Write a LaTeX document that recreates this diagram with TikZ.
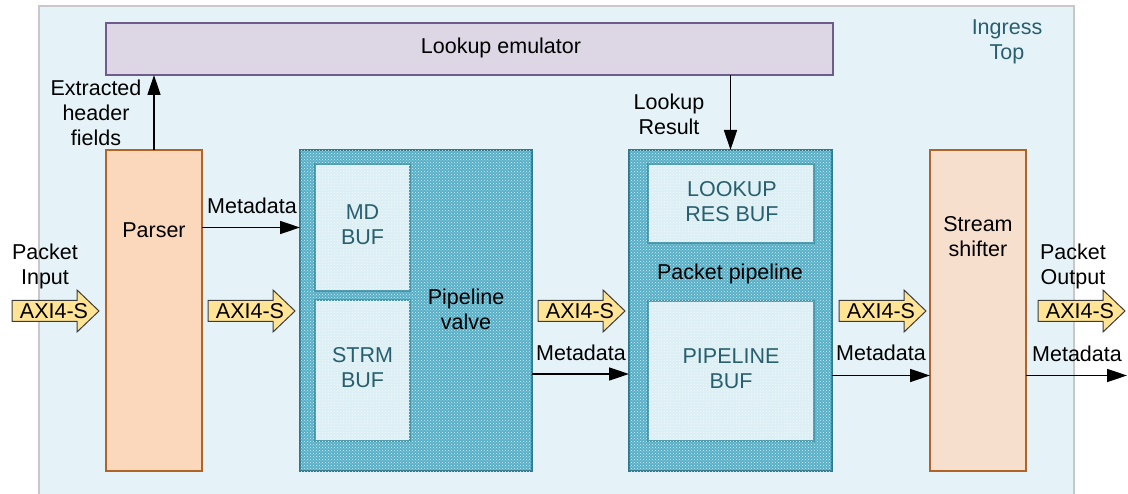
\documentclass[tikz,border=0pt]{standalone}
\usepackage{fontspec}
\setmainfont{Liberation Sans}
\usetikzlibrary{arrows.meta,patterns}

\definecolor{ingressbg}{RGB}{229,243,248}
\definecolor{ingressline}{RGB}{200,200,200}
\definecolor{lookupfill}{RGB}{221,214,229}
\definecolor{lookupline}{RGB}{110,92,140}
\definecolor{parserfill}{RGB}{251,215,188}
\definecolor{shifterfill}{RGB}{247,223,206}
\definecolor{orangeline}{RGB}{176,100,40}
\definecolor{texfill}{RGB}{88,176,200}
\definecolor{texline}{RGB}{45,120,140}
\definecolor{buffill}{RGB}{220,239,244}
\definecolor{bufline}{RGB}{70,150,170}
\definecolor{tealtext}{RGB}{40,95,110}
\definecolor{axifill}{RGB}{255,228,150}
\definecolor{axiline}{RGB}{60,60,60}

% AXI4-S block arrow: name, left x, centre y
\newcommand\axiarrow[3]{%
  \draw[axiedge] (#2,#3-10.5) -- ++(65,0) -- ++(0,-10.5) -- ++(22,21)
    -- ++(-22,21) -- ++(0,-10.5) -- ++(-65,0) -- cycle;
  \node[axitext] (#1) at (#2+42,#3) {AXI4-S};}

\begin{document}
\begin{tikzpicture}[x=1pt,y=-1pt,
  font=\fontsize{21.5}{25}\selectfont,
  every node/.style={inner sep=0pt, outer sep=0pt},
  blockbox/.style={draw, line width=1.5pt},
  parserbox/.style={blockbox, draw=orangeline, fill=parserfill},
  shifterbox/.style={blockbox, draw=orangeline, fill=shifterfill},
  texbox/.style={draw=texline, line width=2pt, fill=texfill,
    postaction={pattern=crosshatch dots, pattern color=white!75!texfill}},
  bufbox/.style={draw=bufline, line width=1.5pt, fill=buffill,
    postaction={pattern=crosshatch dots, pattern color=white!60!buffill}},
  buftext/.style={text=tealtext, align=center},
  lbl/.style={align=center},
  axiedge/.style={draw=axiline, line width=1pt, fill=axifill},
  axitext/.style={},
  arr/.style={line width=1.5pt, -{Triangle[length=20pt,width=13pt]}},
]
\useasboundingbox (0,0) rectangle (1128,494);

% Ingress Top region
\path[fill=ingressbg, draw=ingressline, line width=2pt] (39,6) rectangle (1074,500);
\node[text=tealtext, lbl] (ingress) at (1007,42) {Ingress\\Top};

% Lookup emulator
\node[blockbox, draw=lookupline, fill=lookupfill, minimum width=727pt, minimum height=52pt]
  (lookup) at (469.5,49) {};
\node (lookuptxt) at (501,48) {Lookup emulator};

% Parser
\node[parserbox, minimum width=96pt, minimum height=321pt] (parser) at (154,310.5) {};
\node (parsertxt) at (154,230) {Parser};

% Pipeline valve
\node[texbox, minimum width=232pt, minimum height=321pt] (valve) at (416,310.5) {};
\node[bufbox, minimum width=95pt, minimum height=127pt] (mdbuf) at (362.5,227.5) {};
\node[buftext] (mdtxt) at (362.5,225) {MD\\BUF};
\node[bufbox, minimum width=95pt, minimum height=141pt] (strmbuf) at (362.5,370.5) {};
\node[buftext] (strmtxt) at (362.5,368) {STRM\\BUF};
\node[lbl] (valvetxt) at (466,309) {Pipeline\\valve};

% Packet pipeline
\node[texbox, minimum width=203pt, minimum height=321pt] (pipe) at (730.5,310.5) {};
\node[bufbox, minimum width=166pt, minimum height=79pt] (resbuf) at (731,203.5) {};
\node[buftext] (restxt) at (732,202) {LOOKUP\\RES BUF};
\node[bufbox, minimum width=166pt, minimum height=140pt] (pipebuf) at (731,371) {};
\node[buftext] (pipebuftxt) at (731,369) {PIPELINE\\BUF};
\node (pipetxt) at (730,274) {Packet pipeline};

% Stream shifter
\node[shifterbox, minimum width=96pt, minimum height=321pt] (shifter) at (978,310.5) {};
\node[lbl] (shiftertxt) at (978,237) {Stream\\shifter};

% AXI4-S streams
\axiarrow{axiin}{12}{311}
\axiarrow{axiparser}{208}{311}
\axiarrow{axivalve}{538}{311}
\axiarrow{axipipe}{839}{311}
\axiarrow{axiout}{1038}{311}

\node[lbl] (pktin) at (45,266) {Packet\\Input};
\node[lbl] (pktout) at (1073,266) {Packet\\Output};

% Header fields to the lookup emulator and its result back
\draw[arr] (parser.north) -- (parser.north |- lookup.south);
\node[lbl] (extracted) at (96,113) {Extracted\\header\\fields};
\draw[arr] (pipe.north |- lookup.south) -- (pipe.north);
\node[lbl] (lookupres) at (669,114) {Lookup\\Result};

% Metadata paths
\draw[arr] (parser.east |- mdbuf) -- (valve.west |- mdbuf);
\node (md1) at (252,206) {Metadata};

\coordinate (mdrow) at (0,374);
\coordinate (mdrowb) at (0,375.5);
\coordinate (mdout) at (1127,375.5);
\draw[arr] (valve.east |- mdrow) -- (pipe.west |- mdrow);
\node (md2) at (581,353) {Metadata};
\draw[arr] (pipe.east |- mdrowb) -- (shifter.west |- mdrowb);
\node (md3) at (881,353) {Metadata};
\draw[arr] (shifter.east |- mdrowb) -- (mdout);
\node (md4) at (1077,354) {Metadata};
\end{tikzpicture}
\end{document}
